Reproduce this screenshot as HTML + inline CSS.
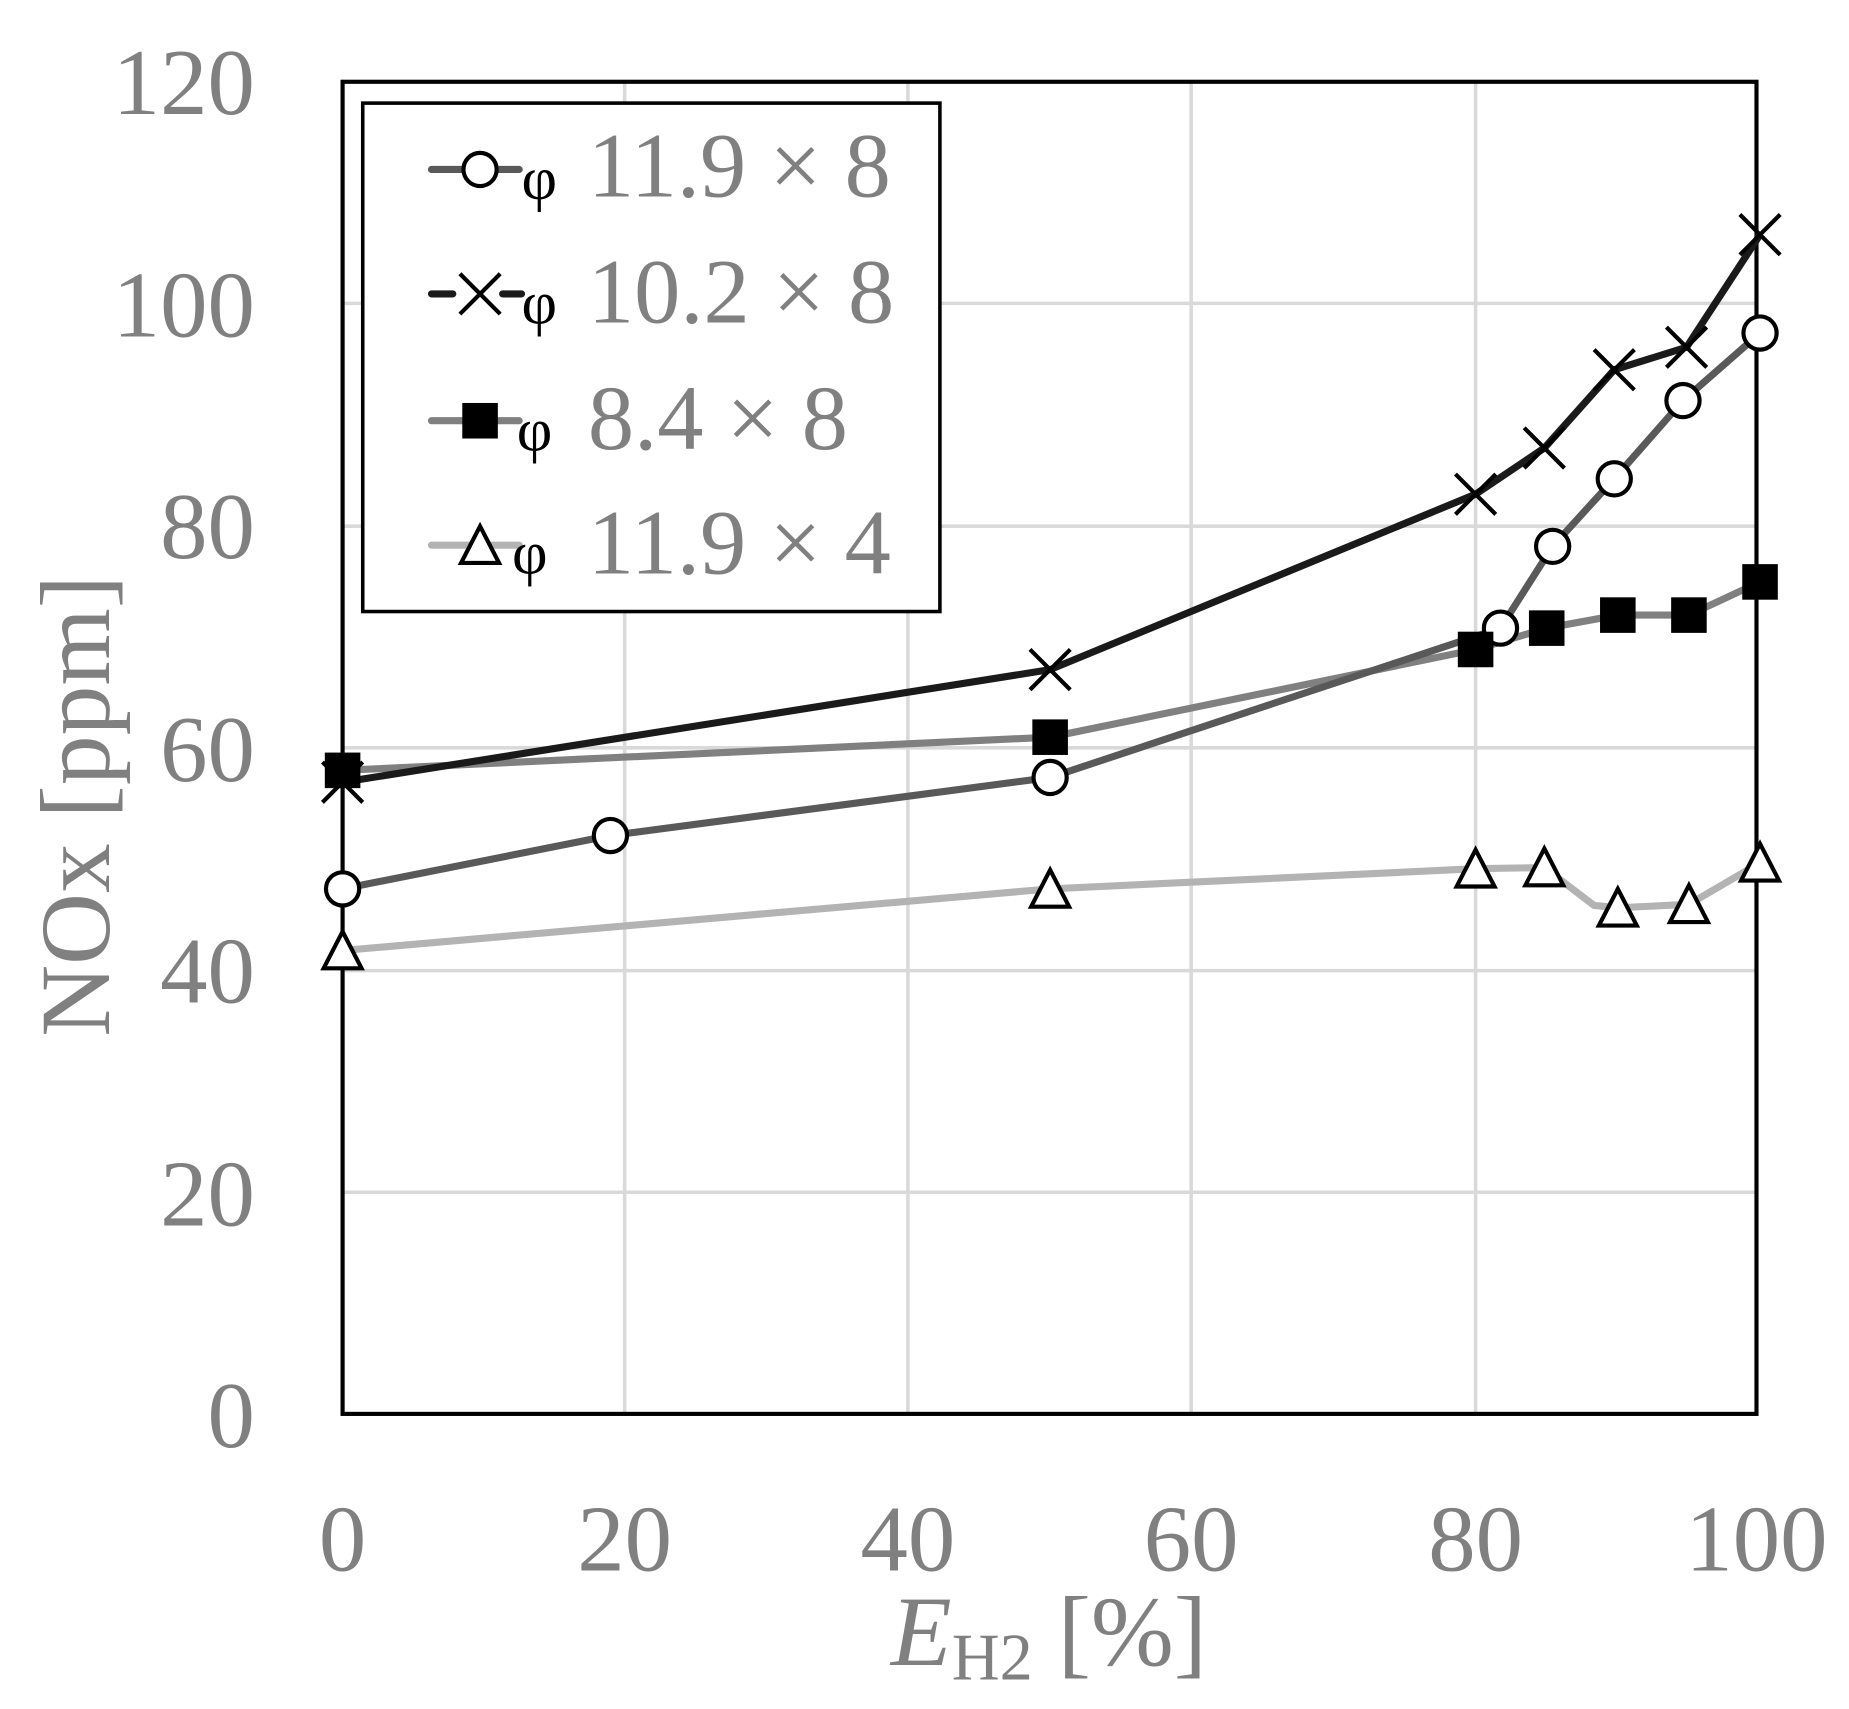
<!DOCTYPE html>
<html><head><meta charset="utf-8"><style>
html,body{margin:0;padding:0;background:#fff}
svg{display:block}
svg text{font-family:"Liberation Serif","Times New Roman",Times,serif}
</style></head><body>
<svg width="1849" height="1709" viewBox="0 0 1560 1442" xmlns="http://www.w3.org/2000/svg" font-family="Liberation Serif, Times New Roman, serif">
<rect width="1560" height="1442" fill="#fff"/>
<g stroke="#d9d9d9" stroke-width="3">
<line x1="527" y1="69" x2="527" y2="1193"/><line x1="766" y1="69" x2="766" y2="1193"/>
<line x1="1005" y1="69" x2="1005" y2="1193"/><line x1="1245" y1="69" x2="1245" y2="1193"/>
<line x1="289" y1="256" x2="1482" y2="256"/><line x1="289" y1="444" x2="1482" y2="444"/>
<line x1="289" y1="631" x2="1482" y2="631"/><line x1="289" y1="819" x2="1482" y2="819"/>
<line x1="289" y1="1006" x2="1482" y2="1006"/>
</g>
<rect x="289" y="69" width="1193" height="1124" fill="none" stroke="#000" stroke-width="3.5"/>
<g fill="#808080" font-size="80" text-anchor="end" font-family="Liberation Serif, serif">
<text x="215" y="96">120</text><text x="215" y="284">100</text><text x="215" y="471">80</text>
<text x="215" y="659">60</text><text x="215" y="846">40</text><text x="215" y="1034">20</text><text x="215" y="1221">0</text>
</g>
<g fill="#808080" font-size="80" text-anchor="middle" font-family="Liberation Serif, serif">
<text x="289" y="1325">0</text><text x="527" y="1325">20</text><text x="766" y="1325">40</text>
<text x="1005" y="1325">60</text><text x="1245" y="1325">80</text><text x="1482" y="1325">100</text>
</g>
<text transform="translate(92,680) rotate(-90)" text-anchor="middle" font-size="84" fill="#808080" font-family="Liberation Serif, serif">NOx [ppm]</text>
<text x="885" y="1405" text-anchor="middle" font-size="84" fill="#808080" font-family="Liberation Serif, serif"><tspan font-style="italic">E</tspan><tspan font-size="56" dy="12">H2</tspan><tspan dy="-12"> [%]</tspan></text>
<polyline fill="none" stroke="#b3b3b3" stroke-width="6" points="289,802 886,750 1245,733 1303,732 1345,764 1365,766 1425,763 1485,728"/>
<polyline fill="none" stroke="#808080" stroke-width="6" points="289,650 886,622 1245,548 1305,530 1365,519 1425,519 1485,491"/>
<polyline fill="none" stroke="#595959" stroke-width="6" points="289,750 515,705 886,656 1266,530 1310,461 1362,404 1420,338 1485,281"/>
<polyline fill="none" stroke="#1a1a1a" stroke-width="6" points="289,660 886,565 1245,417 1303,378 1362,312 1423,293 1485,198"/>
<g fill="#fff" stroke="#000" stroke-width="3.5">
<circle cx="289" cy="750" r="14"/><circle cx="515" cy="705" r="14"/><circle cx="886" cy="656" r="14"/>
<circle cx="1266" cy="530" r="14"/><circle cx="1310" cy="461" r="14"/><circle cx="1362" cy="404" r="14"/>
<circle cx="1420" cy="338" r="14"/><circle cx="1485" cy="281" r="14"/>
</g>
<g stroke="#000" stroke-width="3.5" fill="none">
<path d="M272,643l34,34M306,643l-34,34"/><path d="M869,548l34,34M903,548l-34,34"/>
<path d="M1228,400l34,34M1262,400l-34,34"/><path d="M1286,361l34,34M1320,361l-34,34"/>
<path d="M1345,295l34,34M1379,295l-34,34"/><path d="M1406,276l34,34M1440,276l-34,34"/>
<path d="M1468,181l34,34M1502,181l-34,34"/>
</g>
<g fill="#000">
<rect x="274" y="635" width="30" height="30"/><rect x="871" y="607" width="30" height="30"/>
<rect x="1230" y="533" width="30" height="30"/><rect x="1290" y="515" width="30" height="30"/>
<rect x="1350" y="504" width="30" height="30"/><rect x="1410" y="504" width="30" height="30"/>
<rect x="1470" y="476" width="30" height="30"/>
</g>
<g fill="#fff" stroke="#000" stroke-width="3.5">
<path d="M289,786l-16,31h32z"/><path d="M886,734l-16,31h32z"/><path d="M1245,717l-16,31h32z"/>
<path d="M1303,716l-16,31h32z"/><path d="M1365,750l-16,31h32z"/><path d="M1425,747l-16,31h32z"/>
<path d="M1485,712l-16,31h32z"/>
</g>
<rect x="306" y="87" width="487" height="429" fill="#fff" stroke="#000" stroke-width="3"/>
<line x1="364" y1="143" x2="438" y2="143" stroke="#595959" stroke-width="6" stroke-linecap="round"/>
<circle cx="405" cy="143" r="14" fill="#fff" stroke="#000" stroke-width="3.5"/>
<line x1="364" y1="248" x2="382" y2="248" stroke="#1a1a1a" stroke-width="6" stroke-linecap="round"/>
<line x1="424" y1="248" x2="440" y2="248" stroke="#1a1a1a" stroke-width="6" stroke-linecap="round"/>
<path d="M388,231l34,34M422,231l-34,34" stroke="#000" stroke-width="3.5"/>
<line x1="364" y1="355" x2="438" y2="355" stroke="#808080" stroke-width="6" stroke-linecap="round"/>
<rect x="390" y="340" width="30" height="30" fill="#000"/>
<line x1="364" y1="460" x2="438" y2="460" stroke="#b3b3b3" stroke-width="6" stroke-linecap="round"/>
<path d="M405,444l-16,31h32z" fill="#fff" stroke="#000" stroke-width="3.5"/>
<g font-size="52" fill="#000" font-family="Liberation Serif, serif"><text x="440" y="168">φ</text><text x="440" y="273">φ</text><text x="436" y="380">φ</text><text x="432" y="484">φ</text></g>
<g font-size="78" fill="#808080" font-family="Liberation Serif, serif">
<text x="496" y="166">11.9 × 8</text><text x="496" y="272">10.2 × 8</text>
<text x="496" y="379">8.4 × 8</text><text x="496" y="484">11.9 × 4</text>
</g>
</svg>
</body></html>
